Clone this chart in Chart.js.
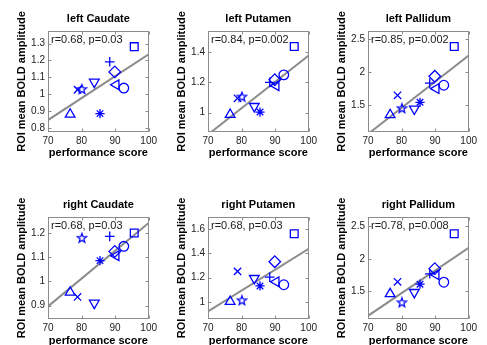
<!DOCTYPE html>
<html>
<head>
<meta charset="utf-8">
<script src="https://cdn.jsdelivr.net/npm/chart.js@4.4.1/dist/chart.umd.min.js"></script>
<style>
body { margin: 0; background: #fff; width: 487px; height: 345px; overflow: hidden; position: relative; }
canvas { position: absolute; }
</style>
</head>
<body>
<canvas id="c1"></canvas>
<canvas id="c2"></canvas>
<canvas id="c3"></canvas>
<canvas id="c4"></canvas>
<canvas id="c5"></canvas>
<canvas id="c6"></canvas>
<script>
// performance score per subject (same subject order in every panel)
var scores = [95.7, 89.9, 92.6, 90.3, 88.4, 83.8, 85.5, 78.8, 80.1, 76.6];

// ROI mean BOLD amplitude per subject
var leftCaudate   = [1.282, 1.132, 1.036, 1.056, 1.192, 1.072, 0.884, 1.026, 1.030, 0.880];
var leftPutamen   = [1.438, 1.218, 1.250, 1.178, 1.200, 1.042, 1.004, 1.095, 1.106, 0.987];
var leftPallidum  = [2.384, 1.934, 1.798, 1.747, 1.830, 1.440, 1.540, 1.646, 1.450, 1.350];
var rightCaudate  = [1.200, 1.124, 1.145, 1.106, 1.186, 0.911, 1.086, 0.936, 1.180, 0.955];
var rightPutamen  = [1.562, 1.332, 1.142, 1.167, 1.205, 1.195, 1.132, 1.252, 1.014, 1.003];
var rightPallidum = [2.387, 1.849, 1.640, 1.756, 1.770, 1.485, 1.610, 1.646, 1.330, 1.460];

// regression line value at x = 70 and x = 100
var fitLeftCaudate   = [0.846, 1.236];
var fitLeftPutamen   = [0.855, 1.378];
var fitLeftPallidum  = [1.059, 2.250];
var fitRightCaudate  = [0.897, 1.241];
var fitRightPutamen  = [0.923, 1.438];
var fitRightPallidum = [1.123, 2.169];

var titles = ['left Caudate', 'left Putamen', 'left Pallidum', 'right Caudate', 'right Putamen', 'right Pallidum'];
var stats = ['r=0.68, p=0.03', 'r=0.84, p=0.002', 'r=0.85, p=0.002', 'r=0.68, p=0.03', 'r=0.68, p=0.03', 'r=0.78, p=0.008'];

// tick labels
var xTicks = [70, 80, 90, 100];
var yTicksLeftCaudate   = [0.8, 0.9, 1, 1.1, 1.2, 1.3];
var yTicksLeftPutamen   = [1, 1.2, 1.4];
var yTicksLeftPallidum  = [1.5, 2, 2.5];
var yTicksRightCaudate  = [0.9, 1, 1.1, 1.2];
var yTicksRightPutamen  = [1, 1.2, 1.4, 1.6];
var yTicksRightPallidum = [1.5, 2, 2.5];

// y axis limits
var yLimLeftCaudate   = [0.775, 1.375];
var yLimLeftPutamen   = [0.872, 1.54];
var yLimLeftPallidum  = [1.09, 2.62];
var yLimRightCaudate  = [0.845, 1.266];
var yLimRightPutamen  = [0.86, 1.70];
var yLimRightPallidum = [1.074, 2.644];

var FONT = "'Liberation Sans', Arial, sans-serif";
Chart.defaults.font.family = FONT;

// pentagram marker
function makePentagram() {
    var c = document.createElement('canvas');
    c.width = 12; c.height = 12;
    var g = c.getContext('2d');
    g.strokeStyle = '#0000ff';
    g.lineWidth = 1.2;
    g.beginPath();
    for (var i = 0; i < 10; i++) {
        var r = i % 2 ? 2.0 : 4.9;
        var a = -Math.PI / 2 + i * Math.PI / 5;
        var px = 6 + r * Math.cos(a), py = 6.4 + r * Math.sin(a);
        if (i == 0) g.moveTo(px, py); else g.lineTo(px, py);
    }
    g.closePath();
    g.stroke();
    return c;
}
var penta = makePentagram();

var markerStyle = ['rect', 'rectRot', 'circle', 'triangle', 'cross', 'triangle', 'star', 'crossRot', penta, 'triangle'];
var markerRot = [0, 0, 0, -90, 0, 180, 0, 0, 0, 0];
var markerSize = [5.5, 5.8, 4.8, 5.6, 4.8, 5.6, 4.6, 5.2, 5, 5.6];

function fmt(v) { return String(+v.toFixed(2)); }

// box, inward ticks, panel title and r/p text
var framePlugin = {
    id: 'frame',
    afterDraw: function (chart, args, opts) {
        var a = chart.chartArea, g = chart.ctx;
        var L = Math.round(a.left) + 0.5, R = Math.round(a.right) - 0.5;
        var T = Math.round(a.top) + 0.5, B = Math.round(a.bottom) - 0.5;
        g.save();
        g.strokeStyle = '#8c8c8c';
        g.lineWidth = 1;
        g.strokeRect(L, T, R - L, B - T);
        g.beginPath();
        chart.scales.x.ticks.forEach(function (t) {
            var px = Math.round(chart.scales.x.getPixelForValue(t.value)) + 0.5;
            g.moveTo(px, B); g.lineTo(px, B - 3);
            g.moveTo(px, T); g.lineTo(px, T + 3);
        });
        chart.scales.y.ticks.forEach(function (t) {
            var py = Math.round(chart.scales.y.getPixelForValue(t.value)) + 0.5;
            g.moveTo(L, py); g.lineTo(L + 3, py);
            g.moveTo(R, py); g.lineTo(R - 3, py);
        });
        g.stroke();
        g.fillStyle = '#000';
        g.font = 'bold 11px ' + FONT;
        g.textAlign = 'center';
        g.textBaseline = 'middle';
        g.fillText(opts.title, (a.left + a.right) / 2, a.top - 12);
        g.font = '11px ' + FONT;
        g.textAlign = 'left';
        g.fillStyle = '#1a1a1a';
        g.fillText(opts.stat, a.left + 3, a.top + 9);
        g.restore();
    }
};

function makePanel(id, n, vals, fit, yTicks, yLim, left, top, padTop, xHeight, titlePad) {
    var cv = document.getElementById(id);
    cv.width = 160; cv.height = 165;
    cv.style.left = left + 'px';
    cv.style.top = top + 'px';
    cv.style.width = '160px';
    cv.style.height = '165px';
    var points = scores.map(function (x, i) { return { x: x, y: vals[i] }; });
    return new Chart(cv, {
        type: 'scatter',
        data: {
            datasets: [{
                data: points,
                pointStyle: markerStyle,
                rotation: markerRot,
                pointRadius: markerSize,
                borderColor: '#0000ff',
                backgroundColor: 'rgba(0,0,0,0)',
                borderWidth: 1.3,
                order: 1
            }, {
                type: 'line',
                data: [{ x: 70, y: fit[0] }, { x: 100, y: fit[1] }],
                borderColor: '#8c8c8c',
                borderWidth: 2,
                pointRadius: 0,
                order: 2
            }]
        },
        options: {
            responsive: false,
            animation: false,
            devicePixelRatio: 1,
            layout: { padding: { left: 0, top: padTop, right: 9, bottom: 0 } },
            plugins: {
                legend: { display: false },
                tooltip: { enabled: false },
                frame: { title: titles[n], stat: stats[n] }
            },
            scales: {
                x: {
                    type: 'linear', min: 70, max: 100,
                    afterBuildTicks: function (s) { s.ticks = xTicks.map(function (v) { return { value: v }; }); },
                    afterFit: function (s) { s.height = xHeight; },
                    grid: { display: false, drawTicks: false },
                    border: { display: false },
                    ticks: { autoSkip: false, maxRotation: 0, padding: 3, color: '#222', font: { size: 10 }, callback: fmt },
                    title: { display: true, text: 'performance score', color: '#000', font: { size: 11, weight: 'bold' }, padding: { top: 0, bottom: titlePad } }
                },
                y: {
                    type: 'linear', min: yLim[0], max: yLim[1],
                    afterBuildTicks: function (s) { s.ticks = yTicks.map(function (v) { return { value: v }; }); },
                    afterFit: function (s) { s.width = 48; },
                    grid: { display: false, drawTicks: false },
                    border: { display: false },
                    ticks: { autoSkip: false, padding: 3, color: '#222', font: { size: 10 }, callback: fmt },
                    title: { display: true, text: 'ROI mean BOLD amplitude', color: '#000', font: { size: 11, weight: 'bold' }, padding: { top: 15, bottom: 0 } }
                }
            }
        },
        plugins: [framePlugin]
    });
}

makePanel('c1', 0, leftCaudate,   fitLeftCaudate,   yTicksLeftCaudate,   yLimLeftCaudate,   0,   0,   31, 33, 5.9);
makePanel('c2', 1, leftPutamen,   fitLeftPutamen,   yTicksLeftPutamen,   yLimLeftPutamen,   160, 0,   31, 33, 5.9);
makePanel('c3', 2, leftPallidum,  fitLeftPallidum,  yTicksLeftPallidum,  yLimLeftPallidum,  320, 0,   31, 33, 5.9);
makePanel('c4', 3, rightCaudate,  fitRightCaudate,  yTicksRightCaudate,  yLimRightCaudate,  0,   185, 32, 31, 2.9);
makePanel('c5', 4, rightPutamen,  fitRightPutamen,  yTicksRightPutamen,  yLimRightPutamen,  160, 185, 32, 31, 2.9);
makePanel('c6', 5, rightPallidum, fitRightPallidum, yTicksRightPallidum, yLimRightPallidum, 320, 185, 32, 31, 2.9);
</script>
</body>
</html>
